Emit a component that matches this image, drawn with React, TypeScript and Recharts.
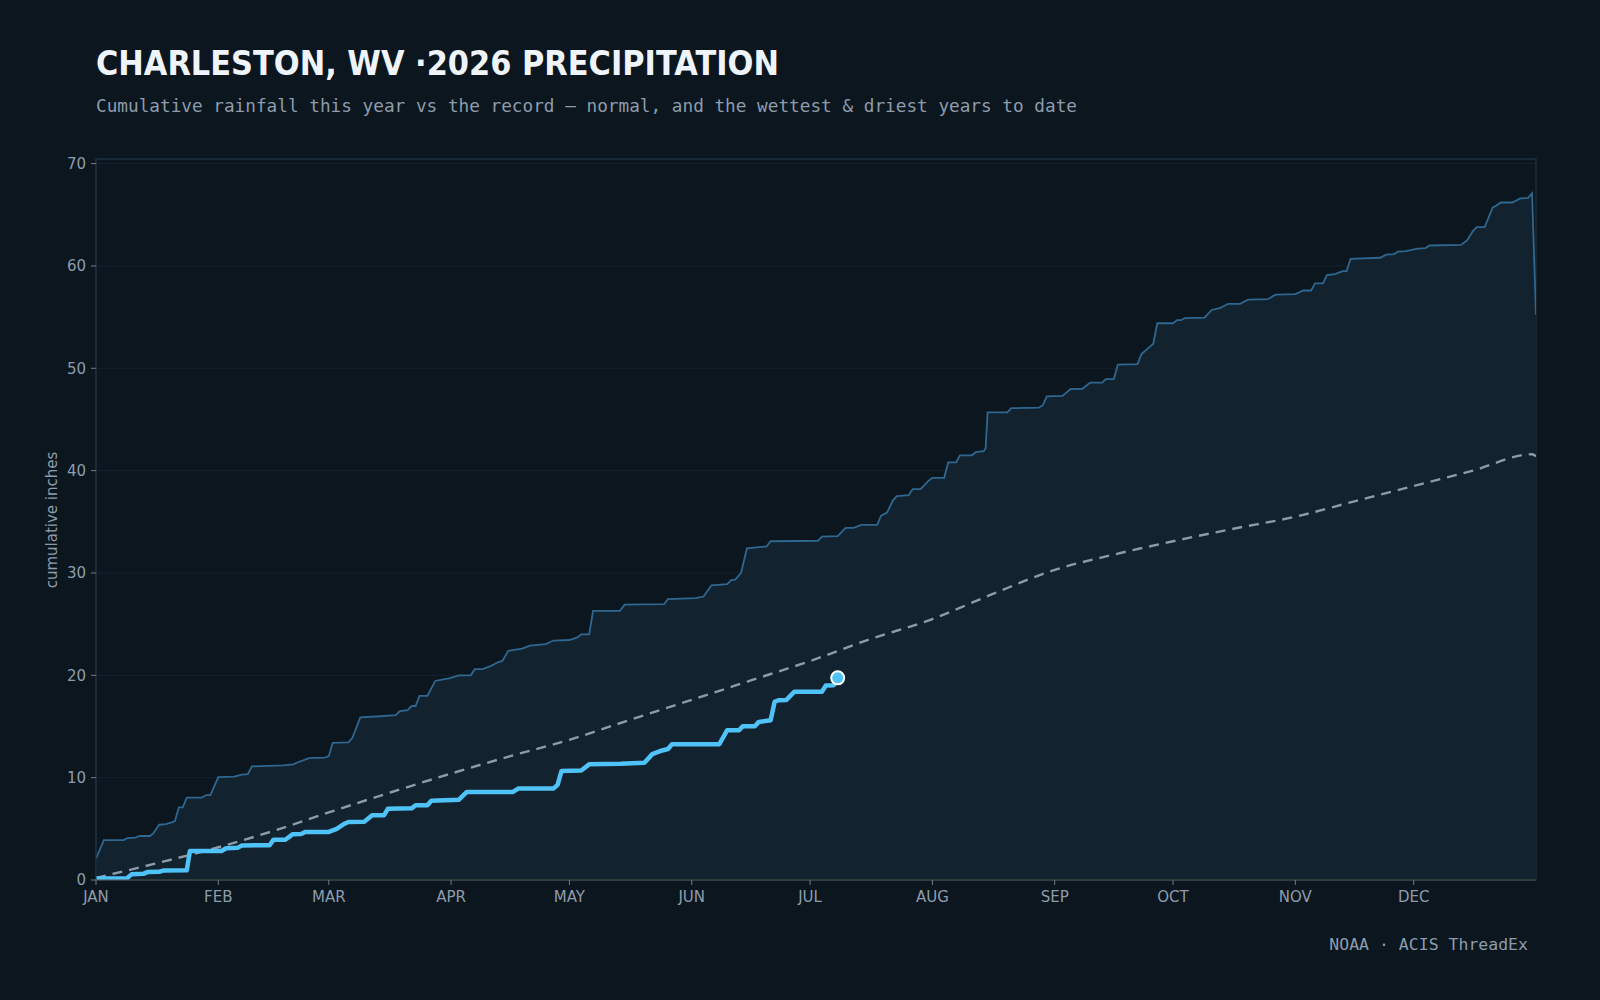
import React from "react";
import { Area, CartesianGrid, ComposedChart, Line, ReferenceArea, XAxis, YAxis } from "recharts";

// day of year (0 = Jan 1) and cumulative inches
const wettestDays = [
  0, 2, 7, 8, 10, 11, 13.7, 14.5, 16, 17.7, 19.4, 20, 21, 22, 23, 26.8, 28, 29, 31, 35, 37, 38.5, 39.5, 47.5, 50,
  51.5, 54, 58, 59, 60, 64, 65, 67, 72, 76, 77, 79, 80, 81, 82, 84, 86, 88, 89.5, 92, 95, 96, 98, 100, 102, 103,
  104.5, 108, 110, 114, 116, 120, 122, 123, 125, 126, 132.8, 134, 144, 145, 152, 154, 156, 160, 161, 162, 163.5,
  165, 170, 171, 183, 184, 188, 190, 192, 194, 198, 199, 200.5, 202, 203, 206, 207, 209, 211, 212, 215, 216, 218,
  219, 222, 223, 225, 225.5, 226, 231, 232, 239, 240, 241, 245, 247, 250, 252, 255, 256, 258, 259, 264, 265,
  266.5, 268, 269, 273, 274, 275, 276, 281, 282.8, 285, 287, 290, 292, 297, 299, 304, 306, 308, 309, 311, 312,
  314, 316, 317, 318, 325.5, 327, 329, 330, 332, 335, 337, 338, 346, 347.5, 349, 350, 352, 354, 355, 356, 359,
  361, 363, 364, 365,
];
const wettestInches = [
  2.1, 3.9, 3.9, 4.1, 4.15, 4.3, 4.3, 4.55, 5.4, 5.45, 5.65, 5.75, 7.1, 7.1, 8.05, 8.05, 8.3, 8.3, 10.05, 10.1,
  10.3, 10.35, 11.1, 11.2, 11.3, 11.55, 11.9, 11.95, 12.1, 13.4, 13.45, 13.9, 15.9, 16.0, 16.1, 16.5, 16.6, 17.0,
  17.0, 18.0, 18.0, 19.45, 19.6, 19.7, 20.0, 20.0, 20.6, 20.6, 20.9, 21.3, 21.4, 22.4, 22.6, 22.9, 23.05, 23.4,
  23.45, 23.7, 24.0, 24.0, 26.3, 26.3, 26.9, 26.95, 27.45, 27.55, 27.7, 28.8, 28.9, 29.3, 29.35, 30.0, 32.4, 32.6,
  33.1, 33.15, 33.55, 33.6, 34.4, 34.4, 34.7, 34.7, 35.6, 35.9, 37.1, 37.5, 37.6, 38.2, 38.2, 39.0, 39.3, 39.3,
  40.8, 40.8, 41.5, 41.5, 41.8, 41.9, 42.2, 45.7, 45.7, 46.1, 46.15, 46.4, 47.25, 47.3, 47.97, 48.0, 48.6, 48.6,
  48.95, 48.95, 50.35, 50.4, 51.4, 51.9, 52.4, 54.4, 54.4, 54.7, 54.7, 54.9, 54.95, 55.7, 55.9, 56.3, 56.3, 56.7,
  56.75, 57.2, 57.25, 57.6, 57.6, 58.3, 58.3, 59.1, 59.2, 59.5, 59.5, 60.7, 60.8, 61.1, 61.15, 61.4, 61.45, 61.7,
  61.75, 62.0, 62.05, 62.5, 63.4, 63.8, 63.8, 65.7, 65.9, 66.2, 66.2, 66.6, 66.65, 67.1, 55.2,
];

const normalDays = [0, 15, 31, 45, 59, 75, 90, 105, 120, 135, 151, 166, 181, 196, 212, 227, 243, 258, 273, 288, 304, 319, 334, 349, 364, 365];
const normalInches = [0.2, 1.6, 3.2, 4.8, 6.6, 8.6, 10.4, 12.1, 13.7, 15.6, 17.6, 19.5, 21.4, 23.5, 25.5, 27.9, 30.3, 31.8, 33.1, 34.3, 35.5, 37.0, 38.5, 40.0, 41.6, 41.4];

const thisYearDays = [
  0, 7.8, 9, 12, 13, 16, 17, 23, 23.8, 31.8, 33, 36, 37, 44, 45, 48, 49.8, 52, 53, 59, 61, 63, 64, 68, 70, 73, 74,
  80, 81, 84, 85, 92, 94, 105.7, 107, 116, 117, 118, 123, 125, 133, 139, 141, 143, 145, 146, 158, 160, 163, 164,
  167, 168, 171, 172, 173, 175, 177, 184, 185, 187, 188,
];
const thisYearInches = [
  0.15, 0.15, 0.55, 0.6, 0.77, 0.8, 0.92, 0.95, 2.83, 2.83, 3.1, 3.16, 3.38, 3.4, 3.94, 3.94, 4.46, 4.5, 4.69, 4.7,
  5.0, 5.5, 5.67, 5.7, 6.32, 6.32, 6.97, 7.0, 7.3, 7.3, 7.75, 7.85, 8.6, 8.6, 8.93, 8.95, 9.3, 10.66, 10.7, 11.3,
  11.35, 11.45, 12.3, 12.6, 12.8, 13.27, 13.27, 14.64, 14.64, 15.03, 15.03, 15.45, 15.6, 17.4, 17.57, 17.6, 18.4,
  18.4, 19.0, 19.04, 19.75,
];

const monthStartDays = [0, 31, 59, 90, 120, 151, 181, 212, 243, 273, 304, 334];
const monthLabels = ["JAN", "FEB", "MAR", "APR", "MAY", "JUN", "JUL", "AUG", "SEP", "OCT", "NOV", "DEC"];
const yTicks = [0, 10, 20, 30, 40, 50, 60, 70];

const wettest = wettestDays.map((day, i) => ({ day, v: wettestInches[i] }));
const normal = normalDays.map((day, i) => ({ day, v: normalInches[i] }));
const thisYear = thisYearDays.map((day, i) => ({ day, v: thisYearInches[i] }));

const BG = "#0c161f";
const MUTED = "#8d9cab";
const SANS = "'DejaVu Sans', sans-serif";
const MONO = "'DejaVu Sans Mono', monospace";

function EndDot(props: any) {
  const { cx, cy, index } = props;
  if (index !== thisYear.length - 1) return <g key={`d${index}`} />;
  return <circle key={`d${index}`} cx={cx} cy={cy} r={6.5} fill="#4fc3f7" stroke="#ffffff" strokeWidth={2} />;
}

export default function App() {
  const tick = { fill: MUTED, fontSize: 15, fontFamily: SANS };
  return (
    <div style={{ position: "fixed", left: 0, top: 0, width: 1600, height: 1000, background: BG }}>
      <ComposedChart width={1600} height={1000} margin={{ top: 159, right: 64, bottom: 90, left: 36 }}>
        <CartesianGrid vertical={false} stroke="#14232f" />
        <ReferenceArea x1={0} x2={365} y1={0} y2={70.45} fill="none" stroke="#1b2d3c" strokeWidth={1.5} />
        <XAxis
          dataKey="day"
          type="number"
          domain={[0, 365]}
          ticks={monthStartDays}
          tickFormatter={(d) => monthLabels[monthStartDays.indexOf(d)]}
          allowDataOverflow
          height={30}
          tick={tick}
          tickSize={5}
          tickMargin={6}
          axisLine={{ stroke: "#4f5548" }}
          tickLine={{ stroke: "#6d7b89" }}
        />
        <YAxis
          type="number"
          domain={[0, 70.45]}
          ticks={yTicks}
          allowDataOverflow
          width={60}
          tick={tick}
          tickSize={5}
          tickMargin={5}
          axisLine={{ stroke: "#1c2e3e" }}
          tickLine={{ stroke: "#6d7b89" }}
        />
        <Area
          data={wettest}
          dataKey="v"
          type="linear"
          stroke="#2f6790"
          strokeWidth={1.8}
          fill="#12222f"
          fillOpacity={1}
          isAnimationActive={false}
          dot={false}
          activeDot={false}
        />
        <Line
          data={normal}
          dataKey="v"
          type="monotone"
          stroke="#8d9ba8"
          strokeWidth={2.4}
          strokeDasharray="10 7"
          dot={false}
          activeDot={false}
          isAnimationActive={false}
        />
        <Line
          data={thisYear}
          dataKey="v"
          type="linear"
          stroke="#4fc3f7"
          strokeWidth={4.5}
          strokeLinejoin="round"
          dot={EndDot}
          activeDot={false}
          isAnimationActive={false}
        />
      </ComposedChart>
      <svg width={1600} height={1000} style={{ position: "absolute", left: 0, top: 0, pointerEvents: "none" }}>
        <text
          x={96}
          y={75}
          fill="#eef4fa"
          fontSize={33}
          fontWeight={700}
          fontFamily={SANS}
          textLength={683}
          lengthAdjust="spacingAndGlyphs"
        >
          CHARLESTON, WV ·2026 PRECIPITATION
        </text>
        <text x={96} y={112} fill={MUTED} fontSize={17} fontFamily={MONO} textLength={981} lengthAdjust="spacingAndGlyphs">
          Cumulative rainfall this year vs the record — normal, and the wettest &amp; driest years to date
        </text>
        <text x={52} y={520} fill={MUTED} fontSize={15} fontFamily={SANS} textAnchor="middle" transform="rotate(-90 52 520)" dominantBaseline="middle">
          cumulative inches
        </text>
        <text x={1528} y={950} fill={MUTED} fontSize={16.5} fontFamily={MONO} textAnchor="end">
          NOAA · ACIS ThreadEx
        </text>
      </svg>
    </div>
  );
}
